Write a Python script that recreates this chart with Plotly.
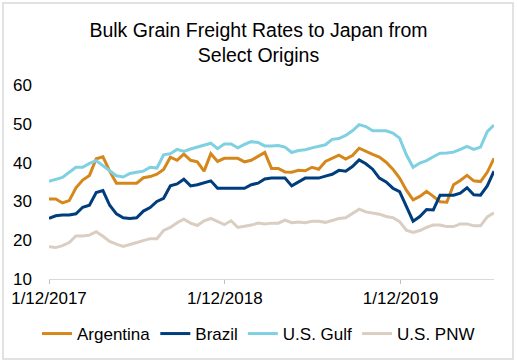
import pandas as pd
import plotly.graph_objects as go

dates = pd.date_range("2017-01-12", periods=67, freq="14D")

argentina = [30.6, 30.6, 29.6, 30.2, 33.5, 35.5, 36.7, 41.0, 41.5, 37.8,
             34.7, 34.7, 34.7, 34.7, 36.1, 36.4, 37.0, 38.2, 41.4, 40.6,
             42.2, 40.6, 40.2, 37.8, 42.3, 40.3, 41.1, 41.1, 41.1, 40.2,
             40.6, 41.6, 42.6, 38.5, 38.5, 37.6, 37.5, 38.0, 37.9, 38.8,
             38.3, 40.3, 41.1, 41.9, 40.9, 41.8, 43.7, 42.8, 42.1, 41.4,
             40.1, 38.3, 36.0, 32.9, 30.4, 31.3, 32.6, 31.3, 29.9, 29.8,
             34.3, 35.4, 36.7, 35.3, 35.1, 37.5, 41.1]
brazil = [25.6, 26.3, 26.5, 26.5, 26.8, 28.5, 29.0, 32.3, 32.8, 29.0,
          26.8, 25.8, 25.6, 25.8, 27.5, 28.4, 30.0, 30.8, 34.0, 34.5,
          35.7, 34.0, 34.3, 34.7, 35.3, 33.4, 33.4, 33.4, 33.4, 33.4,
          34.3, 34.7, 35.8, 36.0, 36.0, 36.0, 34.0, 35.0, 36.0, 36.0,
          36.0, 36.5, 37.0, 38.0, 37.8, 39.0, 40.7, 39.7, 38.3, 36.0,
          35.0, 33.4, 32.5, 28.7, 24.9, 26.1, 27.9, 27.8, 31.6, 31.6,
          31.6, 32.1, 33.5, 31.7, 31.6, 34.0, 37.8]
us_gulf = [35.2, 35.7, 36.2, 37.5, 38.8, 38.8, 39.8, 40.5, 39.2, 37.7,
           36.6, 36.3, 37.2, 37.5, 37.8, 38.8, 38.6, 42.0, 42.3, 43.4,
           42.9, 43.5, 44.0, 44.5, 45.0, 43.6, 44.8, 44.8, 43.8, 44.7,
           45.4, 45.2, 44.3, 44.3, 44.4, 44.0, 42.6, 43.1, 43.3, 43.8,
           44.2, 44.6, 46.0, 46.2, 47.0, 48.2, 49.8, 49.3, 48.2, 48.2,
           48.2, 47.6, 46.3, 42.0, 38.8, 39.9, 40.5, 41.5, 42.4, 42.5,
           42.7, 43.4, 44.2, 43.4, 44.0, 48.0, 49.7]
us_pnw = [18.3, 18.1, 18.6, 19.4, 21.1, 21.1, 21.3, 22.2, 21.0, 19.7,
          19.0, 18.4, 18.9, 19.4, 19.7, 20.4, 20.4, 22.5, 23.3, 24.5,
          25.4, 24.4, 23.8, 25.0, 25.6, 24.9, 24.0, 25.0, 23.3, 23.6,
          23.9, 24.4, 24.2, 24.4, 24.4, 25.2, 24.5, 24.7, 24.5, 24.9,
          24.9, 24.6, 25.2, 25.6, 25.8, 26.8, 28.0, 27.3, 27.0, 26.7,
          26.1, 25.8, 24.8, 22.6, 22.0, 22.5, 23.3, 23.9, 23.9, 23.5,
          23.5, 24.2, 24.2, 23.7, 23.7, 26.0, 27.1]

series_names = ["Argentina", "Brazil", "U.S. Gulf", "U.S. PNW"]
series_values = [argentina, brazil, us_gulf, us_pnw]
series_colors = ["#D6871C", "#003D7C", "#7FD0E1", "#D9CEC1"]

x_tick_vals = ["2017-01-12", "2018-01-12", "2019-01-12"]
x_tick_text = ["1/12/2017", "1/12/2018", "1/12/2019"]
y_tick_vals = [10, 20, 30, 40, 50, 60]

fig = go.Figure()
for name, vals, col in zip(series_names, series_values, series_colors):
    fig.add_trace(go.Scatter(x=dates, y=vals, mode="lines", name=name,
                             line=dict(color=col, width=3)))

FONT = "Liberation Sans, Arial, sans-serif"
fig.update_layout(
    width=517, height=363,
    margin=dict(l=49, r=23, t=85, b=84, autoexpand=False),
    paper_bgcolor="white", plot_bgcolor="white",
    font=dict(family=FONT, size=17, color="#000000"),
    title=dict(text="Bulk Grain Freight Rates to Japan from<br>Select Origins",
               x=0.5, xref="container", xanchor="center",
               y=0.899, yref="container", yanchor="top",
               font=dict(size=19.5, family=FONT, color="#000000")),
    showlegend=True,
    legend=dict(orientation="h", x=0.5, xref="container", xanchor="center",
                y=1 - 334 / 363, yref="container", yanchor="middle",
                font=dict(size=17, family=FONT), itemwidth=30, tracegroupgap=0),
    xaxis=dict(range=[dates[0], dates[-1]], tickvals=x_tick_vals, ticktext=x_tick_text,
               showgrid=False, showline=True, linecolor="#D9D9D9", linewidth=1,
               ticks="outside", ticklen=4, tickcolor="#BFBFBF",
               tickfont=dict(size=17), zeroline=False, automargin=False),
    yaxis=dict(range=[10, 60], tickvals=y_tick_vals, showgrid=False, showline=False,
               zeroline=False, ticks="", ticklabelstandoff=16, tickfont=dict(size=17),
               automargin=False),
    shapes=[dict(type="rect", xref="paper", yref="paper",
                 x0=(3 - 49) / 445, x1=(513 - 49) / 445,
                 y0=(279 - 359) / 194, y1=(279 - 3) / 194,
                 line=dict(color="#D9D9D9", width=1.5), fillcolor="rgba(0,0,0,0)",
                 layer="below")],
)

fig.write_html("out.html",
               config={"displayModeBar": False},
               post_script="document.body.style.margin='0';document.body.style.overflow='hidden';")
